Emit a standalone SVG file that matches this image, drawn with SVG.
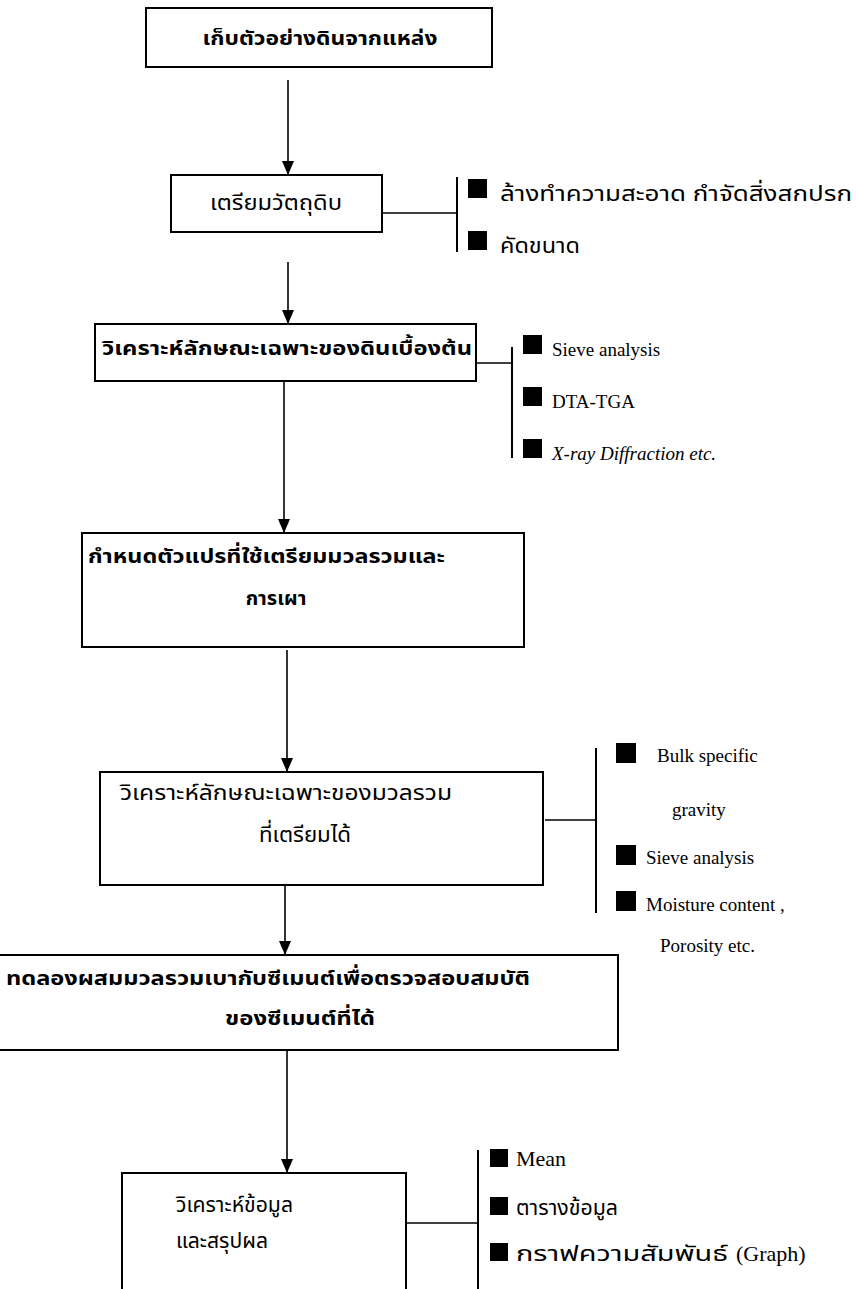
<svg xmlns="http://www.w3.org/2000/svg" width="859" height="1289" viewBox="0 0 859 1289">
<defs>
<marker id="ah" viewBox="0 0 14 12" refX="14" refY="6" markerWidth="14" markerHeight="12" markerUnits="userSpaceOnUse" orient="auto">
<path d="M0,0 L14,6 L0,12 z" fill="#000"/>
</marker>
<style>
.box{fill:#fff;stroke:#000;stroke-width:2}
.ln{fill:none;stroke:#000;stroke-width:1.6}
.br{fill:none;stroke:#000;stroke-width:2}
.arr{fill:none;stroke:#000;stroke-width:1.6;marker-end:url(#ah)}
.bul{fill:#000}
.thb{font-family:'Noto Sans Thai','Noto Sans Thai UI',Loma,Garuda,'Noto Sans',sans-serif;font-weight:bold;font-size:20px;fill:#000}
.thr{font-family:'Noto Sans Thai','Noto Sans Thai UI',Loma,Garuda,'Noto Sans',sans-serif;font-weight:normal;font-size:22px;fill:#000}
.en{font-family:'Liberation Serif','Times New Roman',serif;font-size:19px;fill:#000}
.eni{font-family:'Liberation Serif','Times New Roman',serif;font-size:19px;font-style:italic;fill:#000}
.enl{font-family:'Liberation Serif','Times New Roman',serif;font-size:22px;fill:#000}
</style>
</defs>
<rect width="859" height="1289" fill="#fff"/>

<g id="connectors">
<line class="arr" x1="288" y1="80" x2="288" y2="175"/>
<line class="arr" x1="288" y1="262" x2="288" y2="324"/>
<line class="arr" x1="284" y1="382" x2="284" y2="533"/>
<line class="arr" x1="287" y1="650" x2="287" y2="772"/>
<line class="arr" x1="285" y1="886" x2="285" y2="955"/>
<line class="arr" x1="287" y1="1050" x2="287" y2="1173"/>
<line class="ln" x1="382" y1="213" x2="457" y2="213"/>
<line class="ln" x1="476" y1="363" x2="512" y2="363"/>
<line class="ln" x1="545" y1="820" x2="596" y2="820"/>
<line class="ln" x1="406" y1="1223" x2="478" y2="1223"/>
<line class="br" x1="457" y1="177" x2="457" y2="252"/>
<line class="br" x1="512" y1="347" x2="512" y2="458"/>
<line class="br" x1="596" y1="748" x2="596" y2="913"/>
<line class="br" x1="478" y1="1150" x2="478" y2="1289"/>
</g>

<g id="n1">
<rect class="box" x="146" y="8" width="346" height="59"/>
<text class="thb" x="320" y="45" text-anchor="middle" textLength="235" lengthAdjust="spacingAndGlyphs">เก็บตัวอย่างดินจากแหล่ง</text>
</g>

<g id="n2">
<rect class="box" x="171" y="175" width="211" height="57"/>
<text class="thr" x="276" y="210" text-anchor="middle" textLength="132" lengthAdjust="spacingAndGlyphs">เตรียมวัตถุดิบ</text>
</g>

<g id="n2list">
<rect class="bul" x="468" y="179" width="19" height="19"/>
<rect class="bul" x="468" y="231" width="19" height="19"/>
<text class="thr" x="500" y="201" textLength="352" lengthAdjust="spacingAndGlyphs">ล้างทำความสะอาด กำจัดสิ่งสกปรก</text>
<text class="thr" x="500" y="253" textLength="80" lengthAdjust="spacingAndGlyphs">คัดขนาด</text>
</g>

<g id="n3">
<rect class="box" x="95" y="324" width="381" height="57"/>
<text class="thb" x="102" y="355" textLength="370" lengthAdjust="spacingAndGlyphs">วิเคราะห์ลักษณะเฉพาะของดินเบื้องต้น</text>
</g>

<g id="n3list">
<rect class="bul" x="523" y="335" width="19" height="19"/>
<rect class="bul" x="523" y="387" width="19" height="19"/>
<rect class="bul" x="523" y="439" width="19" height="19"/>
<text class="en" x="552" y="356">Sieve analysis</text>
<text class="en" x="552" y="408">DTA-TGA</text>
<text class="eni" x="552" y="460">X-ray Diffraction etc.</text>
</g>

<g id="n4">
<rect class="box" x="82" y="533" width="442" height="114"/>
<text class="thb" x="88" y="563" textLength="357" lengthAdjust="spacingAndGlyphs">กำหนดตัวแปรที่ใช้เตรียมมวลรวมและ</text>
<text class="thb" x="276" y="605" text-anchor="middle">การเผา</text>
</g>

<g id="n5">
<rect class="box" x="100" y="772" width="443" height="113"/>
<text class="thr" x="286" y="800" text-anchor="middle" textLength="332" lengthAdjust="spacingAndGlyphs">วิเคราะห์ลักษณะเฉพาะของมวลรวม</text>
<text class="thr" x="305" y="842" text-anchor="middle" textLength="92" lengthAdjust="spacingAndGlyphs">ที่เตรียมได้</text>
</g>

<g id="n5list">
<rect class="bul" x="616" y="743" width="20" height="20"/>
<rect class="bul" x="616" y="845" width="20" height="20"/>
<rect class="bul" x="616" y="891" width="20" height="20"/>
<text class="en" x="657" y="762">Bulk specific</text>
<text class="en" x="672" y="816">gravity</text>
<text class="en" x="646" y="864">Sieve analysis</text>
<text class="en" x="646" y="911">Moisture content ,</text>
<text class="en" x="660" y="952">Porosity etc.</text>
</g>

<g id="n6">
<rect class="box" x="-4" y="955" width="622" height="95"/>
<text class="thb" x="6" y="985" textLength="524" lengthAdjust="spacingAndGlyphs">ทดลองผสมมวลรวมเบากับซีเมนต์เพื่อตรวจสอบสมบัติ</text>
<text class="thb" x="300" y="1025" text-anchor="middle" textLength="150" lengthAdjust="spacingAndGlyphs">ของซีเมนต์ที่ได้</text>
</g>

<g id="n7">
<rect class="box" x="122" y="1173" width="284" height="130"/>
<text class="thr" x="176" y="1212" textLength="117" lengthAdjust="spacingAndGlyphs">วิเคราะห์ข้อมูล</text>
<text class="thr" x="176" y="1248" textLength="92" lengthAdjust="spacingAndGlyphs">และสรุปผล</text>
</g>

<g id="n7list">
<rect class="bul" x="490" y="1149" width="18" height="18"/>
<rect class="bul" x="490" y="1197" width="18" height="18"/>
<rect class="bul" x="490" y="1243" width="18" height="18"/>
<text class="enl" x="516" y="1166">Mean</text>
<text class="thr" x="516" y="1215" textLength="102" lengthAdjust="spacingAndGlyphs">ตารางข้อมูล</text>
<text class="thr" x="516" y="1261" textLength="212" lengthAdjust="spacingAndGlyphs">กราฟความสัมพันธ์</text>
<text class="enl" x="736" y="1261">(Graph)</text>
</g>
</svg>
